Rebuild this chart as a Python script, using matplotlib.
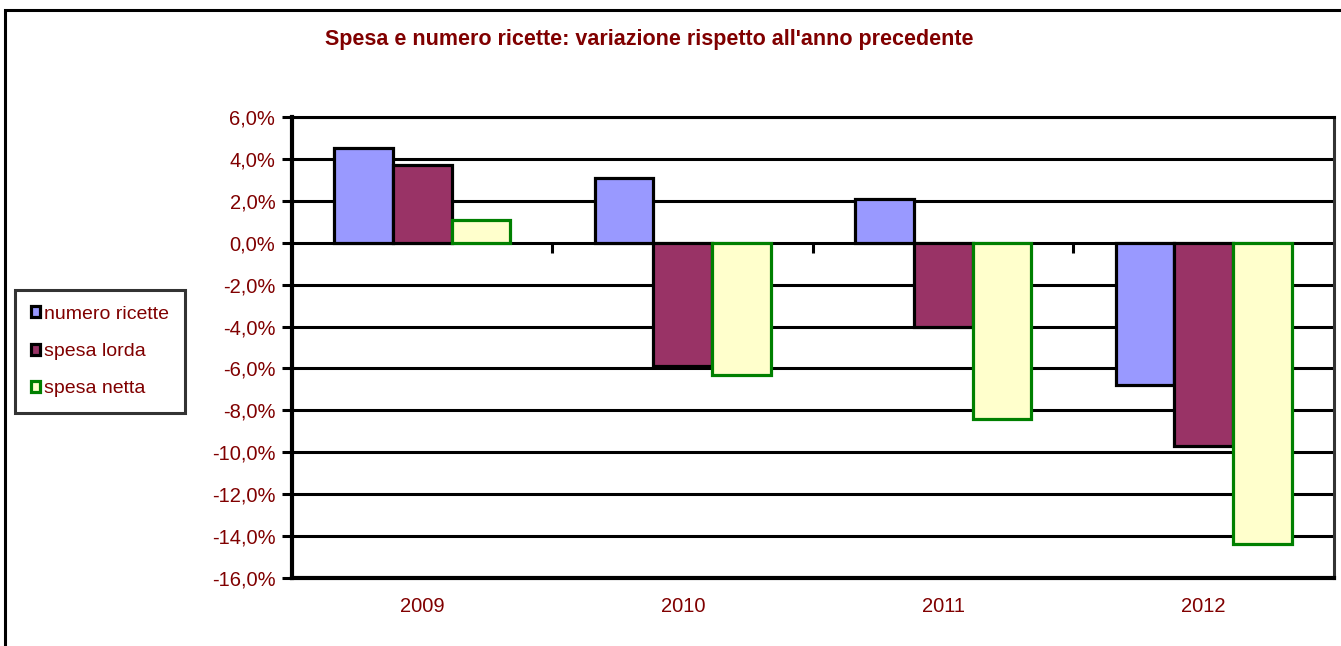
import matplotlib
matplotlib.use("Agg")
import matplotlib.pyplot as plt
import numpy as np
from matplotlib.patches import Rectangle
from matplotlib.ticker import FuncFormatter, FixedLocator, NullFormatter

plt.rcParams['font.family'] = ['Liberation Sans', 'DejaVu Sans']

years = ["2009", "2010", "2011", "2012"]
series_names = ["numero ricette", "spesa lorda", "spesa netta"]
numero_ricette = [4.5, 3.1, 2.1, -6.8]
spesa_lorda = [3.7, -5.9, -4.0, -9.7]
spesa_netta = [1.1, -6.3, -8.4, -14.4]
yticks = list(range(-16, 7, 2))

title = "Spesa e numero ricette: variazione rispetto all'anno precedente"
red = "#800000"
faces = ["#9999FF", "#993366", "#FFFFCC"]
edges = ["black", "black", "#008000"]

fig = plt.figure(figsize=(13.41, 6.46), dpi=100)
fig.patches.append(Rectangle((4.5/1341, -0.1), 1.2, 1.1 - 10.5/646,
                             transform=fig.transFigure, fill=False,
                             edgecolor="black", linewidth=2.2))
ax = fig.add_axes([292/1341, (646-578)/646, (1334-292)/1341, (578-117)/646])

x = np.arange(len(years))
w = 0.225
for i, (vals, fc, ec) in enumerate(zip([numero_ricette, spesa_lorda, spesa_netta], faces, edges)):
    ax.bar(x + (i - 1) * w, vals, width=w, color=fc, edgecolor=ec,
           linewidth=2.3, label=series_names[i], zorder=3)

ax.set_xlim(-0.5, len(years) - 0.5)
ax.set_ylim(-16, 6)
ax.set_yticks(yticks)
ax.yaxis.set_major_formatter(FuncFormatter(lambda v, p: f"{v:.1f}%".replace(".", ",")))
ax.set_xticks(x)
ax.set_xticklabels(years)
ax.tick_params(axis='x', length=0, pad=14, labelsize=14.5, labelcolor=red)
ax.tick_params(axis='y', length=7, width=2.2, direction='out', pad=5, labelsize=14.5, labelcolor=red)
ax.grid(axis='y', color='black', linewidth=2.2, zorder=1)
ax.set_axisbelow(True)
for s in ['left', 'bottom']:
    ax.spines[s].set_linewidth(3)
ax.spines['right'].set_linewidth(2.2)
ax.spines['right'].set_color('#333333')
ax.spines['top'].set_linewidth(2.2)

sec = ax.secondary_xaxis(16/22)
for sp in sec.spines.values():
    sp.set_visible(False)
sec.xaxis.set_major_locator(FixedLocator([0.5, 1.5, 2.5]))
sec.xaxis.set_major_formatter(NullFormatter())
sec.tick_params(axis='x', length=7, width=2.2, direction='in')

fig.text(325/1341, 1 - 40/646, title, color=red, fontsize=15.5, fontweight='bold',
         va='center', ha='left')

leg = fig.legend(loc='upper left', bbox_to_anchor=(15/1341, 1 - 290/646),
                 frameon=True, fancybox=False, edgecolor='black', fontsize=14,
                 handlelength=0.5, handleheight=0.5, handletextpad=0.2,
                 labelspacing=1.05, borderpad=0.8, borderaxespad=0)
leg.get_frame().set_linewidth(2.2)
for t in leg.get_texts():
    t.set_color(red)

fig.savefig("out.png", dpi=100)
